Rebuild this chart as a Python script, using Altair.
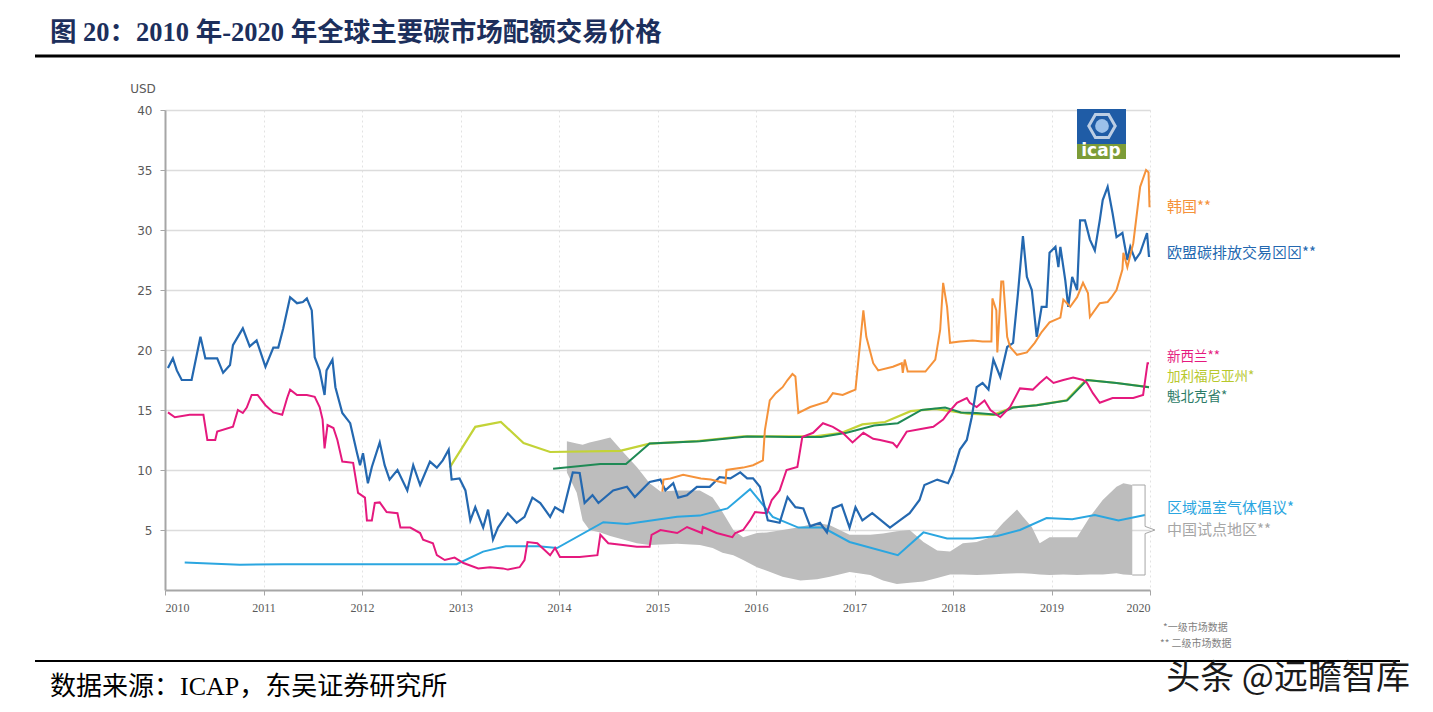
import altair as alt
import pandas as pd

# ---------------- data ----------------
YEAR_TICKS = [2010, 2011, 2012, 2013, 2014, 2015, 2016, 2017, 2018, 2019, 2020]
Y_TICKS = [5, 10, 15, 20, 25, 30, 35, 40]

eu_year = [2010.03, 2010.08, 2010.12, 2010.17, 2010.27, 2010.36, 2010.41, 2010.53, 2010.59, 2010.66,
           2010.69, 2010.79, 2010.86, 2010.93, 2011.02, 2011.10, 2011.15, 2011.20, 2011.27, 2011.34,
           2011.40, 2011.44, 2011.49, 2011.52, 2011.57, 2011.62, 2011.64, 2011.70, 2011.73, 2011.80,
           2011.88, 2011.95, 2011.98, 2012.01, 2012.06, 2012.10, 2012.18, 2012.23, 2012.28, 2012.36,
           2012.46, 2012.52, 2012.59, 2012.69, 2012.76, 2012.82, 2012.88, 2012.91, 2012.99, 2013.05,
           2013.10, 2013.15, 2013.23, 2013.28, 2013.33, 2013.38, 2013.48, 2013.57, 2013.65, 2013.73,
           2013.81, 2013.91, 2013.96, 2014.04, 2014.14, 2014.21, 2014.26, 2014.34, 2014.40, 2014.55,
           2014.69, 2014.77, 2014.92, 2015.03, 2015.08, 2015.16, 2015.21, 2015.30, 2015.40, 2015.53,
           2015.63, 2015.74, 2015.84, 2015.91, 2015.97, 2016.04, 2016.12, 2016.24, 2016.32, 2016.40,
           2016.48, 2016.55, 2016.65, 2016.72, 2016.78, 2016.87, 2016.95, 2017.01, 2017.08, 2017.18,
           2017.36, 2017.46, 2017.56, 2017.66, 2017.71, 2017.84, 2017.95, 2018.00, 2018.07, 2018.14,
           2018.19, 2018.24, 2018.30, 2018.36, 2018.41, 2018.48, 2018.55, 2018.61, 2018.66, 2018.71,
           2018.75, 2018.80, 2018.85, 2018.90, 2018.95, 2018.98, 2019.04, 2019.07, 2019.09, 2019.14,
           2019.17, 2019.21, 2019.26, 2019.29, 2019.34, 2019.39, 2019.44, 2019.49, 2019.52, 2019.57,
           2019.62, 2019.66, 2019.72, 2019.77, 2019.80, 2019.85, 2019.90, 2019.97, 2019.99]
eu_val = [18.5, 19.3, 18.3, 17.5, 17.5, 21.1, 19.3, 19.3, 18.1, 18.75,
          20.4, 21.8, 20.3, 20.8, 18.6, 20.2, 20.2, 21.8, 24.4, 23.9,
          24.0, 24.3, 23.3, 19.4, 18.3, 16.25, 18.3, 19.2, 16.9, 14.75,
          13.9, 11.4, 10.4, 11.4, 8.9, 10.25, 12.3, 10.4, 9.2, 10.0,
          8.3, 10.4, 8.75, 10.7, 10.2, 10.8, 11.7, 9.2, 9.3, 8.3,
          5.8, 6.9, 5.2, 6.7, 4.2, 5.2, 6.4, 5.6, 6.1, 7.7,
          7.25, 6.1, 6.9, 6.5, 9.8, 9.75, 7.25, 7.9, 7.25, 8.3,
          8.6, 7.75, 9.0, 9.2, 8.3, 8.9, 7.7, 7.9, 8.6, 8.6,
          9.4, 9.3, 9.8, 9.3, 9.3, 8.6, 5.8, 5.6, 7.75, 6.9,
          6.8, 5.3, 5.6, 4.8, 6.8, 7.1, 5.2, 6.9, 5.8, 6.4,
          5.2, 5.8, 6.4, 7.5, 8.75, 9.2, 8.9, 9.8, 11.7, 12.5,
          14.4, 16.9, 17.25, 16.7, 19.2, 17.75, 20.25, 20.6, 24.75, 29.5,
          26.1, 25.0, 21.1, 23.6, 23.6, 28.1, 28.6, 26.9, 28.6, 25.8,
          23.6, 26.1, 25.0, 30.8, 30.8, 29.2, 28.3, 30.8, 32.5, 33.6,
          31.4, 29.4, 29.75, 27.5, 28.6, 27.5, 28.1, 29.75, 27.75]

kr_year = [2015.05, 2015.06, 2015.13, 2015.26, 2015.44, 2015.54, 2015.69, 2015.70, 2015.87, 2015.97,
           2016.07, 2016.09, 2016.14, 2016.20, 2016.27, 2016.32, 2016.37, 2016.40, 2016.43, 2016.55,
           2016.72, 2016.78, 2016.88, 2016.95, 2017.01, 2017.05, 2017.09, 2017.12, 2017.19, 2017.24,
           2017.39, 2017.48, 2017.49, 2017.51, 2017.54, 2017.72, 2017.82, 2017.87, 2017.90, 2017.94,
           2017.97, 2018.07, 2018.20, 2018.30, 2018.39, 2018.40, 2018.44, 2018.45, 2018.49, 2018.51,
           2018.55, 2018.58, 2018.65, 2018.75, 2018.83, 2018.90, 2018.98, 2019.09, 2019.12, 2019.19,
           2019.26, 2019.32, 2019.37, 2019.39, 2019.49, 2019.57, 2019.61, 2019.66, 2019.72, 2019.73,
           2019.77, 2019.83, 2019.90, 2019.96, 2019.985, 2019.995]
kr_val = [8.2, 9.2, 9.3, 9.6, 9.3, 9.2, 8.9, 10.0, 10.2, 10.4,
          10.8, 13.3, 15.8, 16.4, 16.9, 17.5, 18.0, 17.8, 14.75, 15.25,
          15.7, 16.4, 16.25, 16.5, 16.7, 20.0, 23.3, 21.1, 18.9, 18.3,
          18.6, 18.9, 18.1, 19.2, 18.2, 18.2, 19.2, 21.7, 25.6, 23.6,
          20.6, 20.7, 20.8, 20.7, 20.7, 24.3, 23.3, 19.8, 25.7, 25.7,
          21.1, 20.25, 19.6, 19.8, 20.6, 21.5, 22.3, 22.7, 24.2, 23.6,
          24.4, 25.6, 24.75, 22.75, 23.9, 24.0, 24.4, 25.0, 26.7, 28.1,
          26.9, 28.9, 33.6, 35.0, 34.8, 31.9]

nz_year = [2010.03, 2010.10, 2010.25, 2010.39, 2010.43, 2010.51, 2010.53, 2010.69, 2010.74, 2010.79,
           2010.83, 2010.88, 2010.94, 2011.02, 2011.10, 2011.19, 2011.24, 2011.27, 2011.34, 2011.44,
           2011.52, 2011.57, 2011.60, 2011.62, 2011.65, 2011.71, 2011.75, 2011.80, 2011.91, 2011.96,
           2012.03, 2012.05, 2012.10, 2012.13, 2012.18, 2012.25, 2012.36, 2012.39, 2012.49, 2012.59,
           2012.62, 2012.72, 2012.76, 2012.84, 2012.94, 2013.03, 2013.18, 2013.30, 2013.43, 2013.48,
           2013.60, 2013.65, 2013.68, 2013.78, 2013.91, 2013.96, 2014.01, 2014.21, 2014.39, 2014.42,
           2014.50, 2014.65, 2014.79, 2014.92, 2014.94, 2015.03, 2015.20, 2015.30, 2015.45, 2015.46,
           2015.60, 2015.76, 2015.79, 2015.87, 2015.94, 2015.99, 2016.11, 2016.16, 2016.24, 2016.31,
           2016.42, 2016.47, 2016.58, 2016.68, 2016.78, 2016.88, 2016.98, 2017.09, 2017.19, 2017.26,
           2017.39, 2017.43, 2017.53, 2017.66, 2017.80, 2017.90, 2017.95, 2018.04, 2018.14, 2018.17,
           2018.24, 2018.32, 2018.38, 2018.48, 2018.58, 2018.68, 2018.81, 2018.88, 2018.95, 2019.02,
           2019.12, 2019.22, 2019.32, 2019.36, 2019.42, 2019.49, 2019.62, 2019.73, 2019.83, 2019.93,
           2019.975, 2019.99]
nz_val = [14.8, 14.4, 14.6, 14.6, 12.5, 12.5, 13.2, 13.6, 15.0, 14.75,
          15.2, 16.25, 16.25, 15.4, 14.8, 14.6, 16.0, 16.7, 16.25, 16.25,
          16.1, 15.25, 14.2, 11.8, 13.75, 13.5, 12.5, 10.7, 10.6, 8.1,
          7.7, 5.8, 5.8, 7.25, 7.3, 6.5, 6.4, 5.2, 5.2, 4.75,
          4.2, 3.9, 2.9, 2.5, 2.7, 2.25, 1.8, 1.9, 1.8, 1.7,
          1.9, 2.5, 4.0, 3.9, 2.9, 3.5, 2.75, 2.75, 2.9, 4.6,
          3.9, 3.75, 3.6, 3.6, 4.6, 5.0, 4.75, 5.25, 4.75, 5.25,
          4.75, 4.4, 4.75, 5.0, 5.8, 6.5, 6.4, 7.5, 8.3, 10.0,
          10.25, 12.75, 13.1, 13.9, 13.6, 13.1, 12.3, 13.1, 12.6, 12.5,
          12.25, 11.9, 13.2, 13.4, 13.6, 14.2, 14.75, 15.6, 16.0, 15.6,
          15.25, 15.8, 15.0, 14.4, 15.25, 16.8, 16.7, 17.25, 17.75, 17.25,
          17.5, 17.7, 17.5, 17.25, 16.4, 15.6, 16.0, 16.0, 16.0, 16.25,
          18.9, 18.9]

ca_year = [2012.89, 2013.15, 2013.41, 2013.64, 2013.91, 2014.62, 2014.92, 2015.40, 2015.87, 2016.30,
           2016.60, 2016.87, 2017.08, 2017.31, 2017.57, 2017.82, 2017.98, 2018.15, 2018.41, 2018.60,
           2018.85, 2019.15, 2019.35, 2019.66, 2019.99]
ca_val = [10.2, 13.6, 14.0, 12.25, 11.5, 11.6, 12.2, 12.4, 12.8, 12.8,
          12.8, 13.1, 13.8, 14.0, 14.9, 15.1, 14.9, 14.7, 14.6, 15.2,
          15.4, 15.8, 17.5, 17.25, 16.9]

qc_year = [2013.94, 2014.42, 2014.68, 2014.92, 2015.43, 2015.91, 2016.34, 2016.66, 2016.92, 2017.20,
           2017.44, 2017.68, 2017.92, 2018.08, 2018.24, 2018.45, 2018.61, 2018.85, 2019.16, 2019.36,
           2019.66, 2019.99]
qc_val = [10.1, 10.5, 10.5, 12.2, 12.4, 12.8, 12.75, 12.75, 13.1, 13.7,
          13.9, 15.0, 15.2, 14.8, 14.75, 14.6, 15.2, 15.4, 15.8, 17.5,
          17.25, 16.9]

rggi_year = [2010.20, 2010.76, 2011.20, 2012.96, 2013.23, 2013.46, 2013.79, 2013.98, 2014.45, 2014.69,
             2015.20, 2015.43, 2015.71, 2015.94, 2016.17, 2016.43, 2016.68, 2016.95, 2017.44, 2017.70,
             2017.94, 2018.20, 2018.45, 2018.68, 2018.95, 2019.21, 2019.44, 2019.68, 2019.95]
rggi_val = [2.3, 2.1, 2.15, 2.15, 3.2, 3.65, 3.65, 3.5, 5.65, 5.5,
            6.1, 6.2, 6.8, 8.4, 6.1, 5.2, 5.2, 4.0, 2.9, 4.8,
            4.3, 4.3, 4.5, 5.0, 6.0, 5.9, 6.25, 5.8, 6.25]

cn_year = [2014.08, 2014.18, 2014.24, 2014.31, 2014.42, 2014.52, 2014.65, 2014.79, 2014.92, 2015.03,
           2015.20, 2015.43, 2015.56, 2015.66, 2015.77, 2015.87, 2016.01, 2016.11, 2016.27, 2016.45,
           2016.62, 2016.75, 2016.95, 2017.16, 2017.29, 2017.43, 2017.56, 2017.70, 2017.84, 2017.97,
           2018.10, 2018.24, 2018.38, 2018.51, 2018.65, 2018.71, 2018.80, 2018.88, 2018.98, 2019.12,
           2019.26, 2019.39, 2019.52, 2019.66, 2019.73, 2019.82]
cn_high = [12.4, 12.2, 12.1, 12.3, 12.5, 12.7, 11.5, 10.25, 8.9, 8.2,
           8.3, 8.3, 7.7, 6.5, 5.0, 4.4, 4.75, 4.8, 5.0, 5.25,
           5.6, 5.4, 4.6, 4.6, 4.7, 4.9, 5.0, 4.0, 3.3, 3.2,
           3.9, 4.0, 4.4, 5.6, 6.7, 6.1, 5.25, 3.9, 4.4, 4.4,
           4.4, 6.1, 7.5, 8.6, 8.9, 8.75]
cn_low = [9.8, 8.1, 5.8, 5.0, 4.8, 4.5, 4.2, 3.9, 3.75, 3.8,
          3.85, 3.75, 3.5, 3.1, 2.9, 2.5, 1.9, 1.6, 1.1, 0.8,
          0.9, 1.1, 1.5, 1.25, 0.8, 0.5, 0.6, 0.7, 1.0, 1.3,
          1.3, 1.25, 1.3, 1.35, 1.4, 1.4, 1.35, 1.3, 1.25, 1.3,
          1.25, 1.3, 1.3, 1.4, 1.3, 1.25]

# brace that groups the China pilot band with its label
brace_year = [2019.82, 2019.95, 2019.95, 2020.05, 2019.95, 2019.95, 2019.82]
brace_val = [8.75, 8.75, 5.3, 5.0, 4.7, 1.25, 1.25]

series_labels = ["韩国**", "欧盟碳排放交易⊠⊠**", "新西兰**", "加利福尼亚州*", "魁北克省*",
                 "区域温室气体倡议*", "中国试点地区**"]

# ---------------- styling ----------------
W, H = 985, 480
PAD_L, PAD_T = 157, 102
PAD_R = 1417 - PAD_L - W
PAD_B = 696 - PAD_T - H

C_EU = "#2468b0"
C_KR = "#f5923a"
C_NZ = "#e5197e"
C_CA = "#c3d337"
C_QC = "#1f8a55"
C_RG = "#2ba6e0"
C_CN = "#bdbdbd"

SANS = "DejaVu Sans"
CJK = "Noto Sans CJK SC"
SERIF = "Liberation Serif, Noto Sans CJK SC"

xscale = alt.Scale(domain=[2010, 2020], nice=False, zero=False)
yscale = alt.Scale(domain=[0, 40], nice=False, zero=True)

x_axis = alt.Axis(values=YEAR_TICKS, format="d", title=None, labelFont="Liberation Serif",
                  labelFontSize=12, labelColor="#595959", grid=True, gridDash=[2, 3],
                  gridColor="#e2e2e2", gridWidth=1, domainColor="#a6a6a6", domainWidth=2,
                  tickColor="#a6a6a6", tickSize=5, labelPadding=7)
y_axis = alt.Axis(values=Y_TICKS, title=None, labelFont=SANS, labelFontSize=12,
                  labelColor="#595959", grid=True, gridColor="#dcdcdc", gridWidth=1.5,
                  domainColor="#a6a6a6", domainWidth=2, tickColor="#a6a6a6", tickSize=5,
                  labelPadding=8)

X = alt.X("year:Q", scale=xscale, axis=x_axis)


def line(years, vals, color, width=2.0):
    df = pd.DataFrame({"year": years, "value": vals})
    return alt.Chart(df).mark_line(color=color, strokeWidth=width).encode(
        x=X, y=alt.Y("value:Q", scale=yscale, axis=y_axis))


band = alt.Chart(pd.DataFrame({"year": cn_year, "high": cn_high, "low": cn_low})).mark_area(
    color=C_CN, opacity=1).encode(
    x=X, y=alt.Y("high:Q", scale=yscale, axis=y_axis), y2="low:Q")

brace = alt.Chart(pd.DataFrame({"year": brace_year, "value": brace_val,
                                "o": list(range(len(brace_year)))})).mark_line(
    color="#a6a6a6", strokeWidth=1).encode(
    x=X, y=alt.Y("value:Q", scale=yscale, axis=y_axis), order="o:Q")

dummy = pd.DataFrame({"d": [0]})


def txt(s, x, y, color, size, font=CJK, weight="normal", align="left", baseline="middle"):
    return alt.Chart(dummy).mark_text(text=s, color=color, fontSize=size, font=font,
                                      fontWeight=weight, align=align, baseline=baseline).encode(
        x=alt.value(x), y=alt.value(y))


def hrule(x1, x2, y, color, width):
    return alt.Chart(dummy).mark_rule(color=color, strokeWidth=width).encode(
        x=alt.value(x1), x2=alt.value(x2), y=alt.value(y))


def rect(x1, x2, y1, y2, color):
    return alt.Chart(dummy).mark_rect(color=color).encode(
        x=alt.value(x1), x2=alt.value(x2), y=alt.value(y1), y2=alt.value(y2))


HEX = "M-1,0L-0.5,-0.87L0.5,-0.87L1,0L0.5,0.87L-0.5,0.87Z"
logo = [
    rect(912, 961, -1, 34, "#1f5ca6"),
    rect(912, 961, 34, 49, "#7c9c37"),
    alt.Chart(dummy).mark_point(shape=HEX, size=700, filled=False, stroke="white",
                                strokeWidth=3).encode(x=alt.value(937), y=alt.value(16)),
    alt.Chart(dummy).mark_point(shape="circle", size=190, filled=True, color="#9cc1ea",
                                opacity=1).encode(x=alt.value(937), y=alt.value(16)),
    txt("icap", 936, 41, "white", 17, font=SANS, weight="bold", align="center"),
]

label_colors = [C_KR, C_EU, C_NZ, "#b7c82c", "#2b7a66", C_RG, "#a6a6a6"]
label_y = [97, 143, 247, 267, 287, 398, 420]
label_size = [15, 15, 13.5, 13.5, 13.5, 15, 15]
labels = [txt(s, 1002, yy, c, fs)
          for s, yy, c, fs in zip(series_labels, label_y, label_colors, label_size)]

deco = [
    txt("图 20：2010 年-2020 年全球主要碳市场配额交易价格", -115, -77, "#1c2f5c", 26.5,
        font=SERIF, weight="bold"),
    hrule(-130, 1235, -54, "black", 3),
    txt("USD", -22, -21, "#595959", 12, font=SANS, align="center"),
    txt("*一级市场数据", 998, 518, "#7f7f7f", 10),
    txt("** 二级市场数据", 995, 534, "#7f7f7f", 10),
    hrule(-130, 1235, 551, "black", 2),
    txt("数据来源：ICAP，东吴证券研究所", -115, 577, "black", 26, font=SERIF),
    txt("头条 @远瞻智库", 1245, 569, "#1a1a1a", 34, align="right"),
]

chart = alt.layer(
    band,
    line(rggi_year, rggi_val, C_RG),
    line(ca_year, ca_val, C_CA, 2.2),
    line(qc_year, qc_val, C_QC),
    line(nz_year, nz_val, C_NZ),
    line(eu_year, eu_val, C_EU, 2.2),
    line(kr_year, kr_val, C_KR),
    brace,
    *logo,
    *labels,
    *deco,
).properties(
    width=W, height=H,
    padding={"left": PAD_L, "top": PAD_T, "right": PAD_R, "bottom": PAD_B},
    autosize=alt.AutoSizeParams(type="none"),
    background="white",
).configure_view(stroke=None)

chart.save("out.html", embed_options={"renderer": "svg", "actions": False})
